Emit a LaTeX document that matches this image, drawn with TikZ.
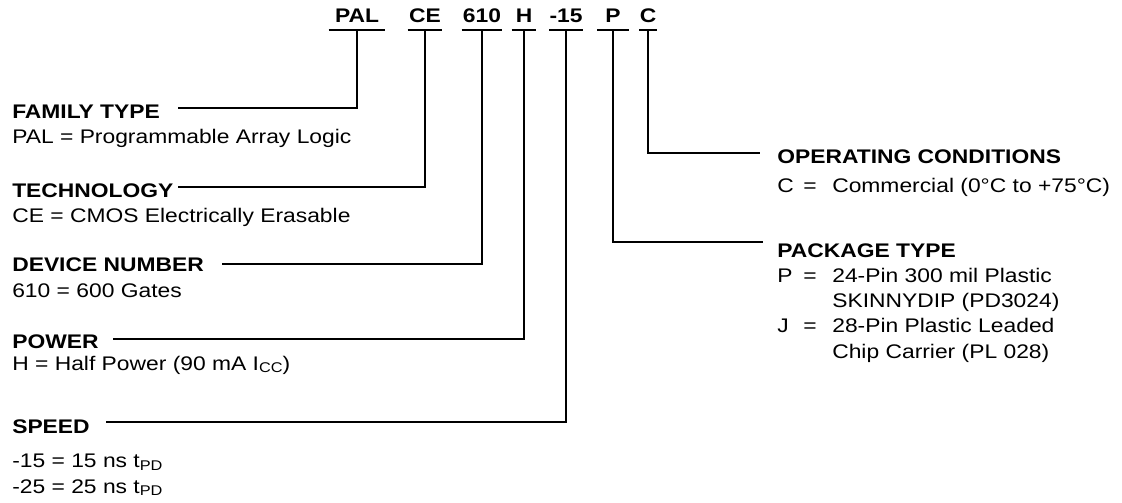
\documentclass[tikz,border=0pt]{standalone}
\usepackage{fontspec}
\setmainfont{Liberation Sans}[FakeStretch=1.16]
\newcommand{\lowsub}[1]{\raisebox{-0.12em}{\fontsize{10}{12}\selectfont #1}}
\tikzset{
  lead/.style={line width=0.05cm},
  code/.style={font=\bfseries, anchor=south, inner xsep=0pt, inner ysep=0.175cm, text depth=0pt},
  head/.style={font=\bfseries, anchor=base west, inner sep=0pt},
  note/.style={anchor=base west, inner sep=0pt, align=left},
}
\begin{document}
\begin{tikzpicture}[x=0.025cm, y=-0.025cm]
            \useasboundingbox (0,0) rectangle (1122,502);
            {\fontsize{14}{18}\selectfont

            % Marking the ordering code fields
            \node (pal)  [code, minimum width=1.4cm]   at (357,30) {PAL};%
            \node (ce)   [code, minimum width=0.85cm]  at (425,30) {CE};%
            \node (dev)  [code, minimum width=1.0cm]   at (482,30) {610};%
            \node (pow)  [code, minimum width=0.6cm]   at (524,30) {H};%
            \node (spd)  [code, minimum width=0.7cm]   at (566,30) {-15};%
            \node (pkg)  [code, minimum width=0.775cm] at (613,30) {P};%
            \node (cond) [code, minimum width=0.425cm] at (648,30) {C};%
            \foreach \f in {pal,ce,dev,pow,spd,pkg,cond}
              \draw [lead] (\f.south west) -- (\f.south east);%

            % Marking FAMILY TYPE
            \node (famHead) [head] at (12,118) {FAMILY TYPE};%
            \node (famNote) [note] at (12,143) {PAL = Programmable Array Logic};%
            \coordinate (famEnd) at (178,108);%

            % Marking TECHNOLOGY
            \node (techHead) [head] at (12,197) {TECHNOLOGY};%
            \node (techNote) [note] at (12,222) {CE = CMOS Electrically Erasable};%
            \coordinate (techEnd) at (178,187);%

            % Marking DEVICE NUMBER
            \node (devHead) [head] at (12,271) {DEVICE NUMBER};%
            \node (devNote) [note] at (12,297) {610 = 600 Gates};%
            \coordinate (devEnd) at (222,264);%

            % Marking POWER
            \node (powHead) [head] at (12,348) {POWER};%
            \node (powNote) [note] at (12,370) {H = Half Power (90 mA I\lowsub{CC})};%
            \coordinate (powEnd) at (113,339);%

            % Marking SPEED (base of a multi-line note is its last line)
            \node (spdHead) [head] at (12,433) {SPEED};%
            \node (spdNote) [note] at (12,493) {-15 = 15 ns t\lowsub{PD}\\-25 = 25 ns t\lowsub{PD}};%
            \coordinate (spdEnd) at (106,422);%

            % Marking OPERATING CONDITIONS
            \node (condHead) [head] at (777,163) {OPERATING CONDITIONS};%
            \node (condNote) [note] at (777,192) {\makebox[0.65cm][l]{C}\makebox[0.725cm][l]{=}Commercial (0°C to +75°C)};%
            \coordinate (condEnd) at (760,153);%

            % Marking PACKAGE TYPE
            \node (pkgHead) [head] at (777,257) {PACKAGE TYPE};%
            \node (pkgNote) [note] at (777,358) {\makebox[0.65cm][l]{P}\makebox[0.725cm][l]{=}24-Pin 300 mil Plastic\\
              \hspace*{1.375cm}SKINNYDIP (PD3024)\\
              \makebox[0.65cm][l]{J}\makebox[0.725cm][l]{=}28-Pin Plastic Leaded\\
              \hspace*{1.375cm}Chip Carrier (PL 028)};%
            \coordinate (pkgEnd) at (763,242);%

            % Drawing leads from fields to headings
            \draw [lead] (pal.south) |- (famEnd);%
            \draw [lead] (ce.south) |- (techEnd);%
            \draw [lead] (dev.south) |- (devEnd);%
            \draw [lead] (pow.south) |- (powEnd);%
            \draw [lead] (spd.south) |- (spdEnd);%
            \draw [lead] (pkg.south) |- (pkgEnd);%
            \draw [lead] (cond.south) |- (condEnd);%
            }
\end{tikzpicture}
\end{document}
